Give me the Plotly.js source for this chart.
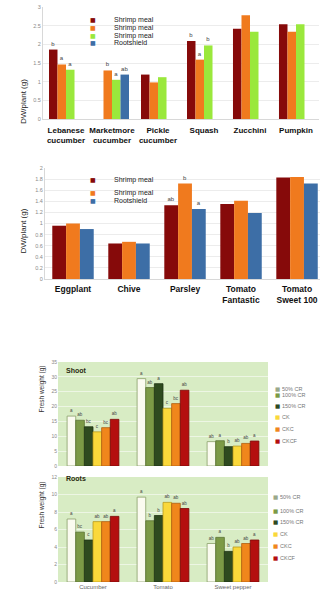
<!DOCTYPE html>
<html><head><meta charset="utf-8">
<script src="https://cdn.plot.ly/plotly-3.0.1.min.js"></script>
<style>html,body{margin:0;padding:0;background:#fff}#c{width:320px;height:595px}</style>
</head><body><div id="c"></div>
<script>
// ---------- Chart 1 (cucurbits) ----------
const cat1 = ["Lebanese<br>cucumber","Marketmore<br>cucumber","Pickle<br>cucumber","Squash","Zucchini","Pumpkin"];
const names1 = ["Shrimp meal","Shrimp meal","Shrimp meal","Rootshield"];
const c1s1 = [1.86, null, 1.19, 2.09, 2.42, 2.54];
const c1s2 = [1.46, 1.30, 0.98, 1.59, 2.78, 2.34];
const c1s3 = [1.32, 1.05, 1.12, 1.97, 2.34, 2.54];
const c1s4 = [null, 1.19, null, null, null, null];
const c1t1 = ["b","","","b","",""];
const c1t2 = ["a","b","","a","",""];
const c1t3 = ["a","a","","b","",""];
const c1t4 = ["","ab","","","",""];
const ticks1 = [0,0.5,1,1.5,2,2.5,3];

// ---------- Chart 2 (other vegetables) ----------
const cat2 = ["Eggplant","Chive","Parsley","Tomato<br>Fantastic","Tomato<br>Sweet 100"];
const names2 = ["Shrimp meal","Shrimp meal","Rootshield"];
const c2s1 = [0.96, 0.64, 1.33, 1.35, 1.83];
const c2s2 = [1.00, 0.67, 1.72, 1.41, 1.84];
const c2s3 = [0.90, 0.64, 1.26, 1.19, 1.72];
const c2t1 = ["","","ab","",""];
const c2t2 = ["","","b","",""];
const c2t3 = ["","","a","",""];
const ticks2 = [0,0.2,0.4,0.6,0.8,1,1.2,1.4,1.6,1.8,2];

// ---------- Chart 3 (Shoot / Roots fresh weight) ----------
const cat3 = ["Cucumber","Tomato","Sweet pepper"];
const names3 = ["50% CR","100% CR","150% CR","CK","CKC","CKCF"];
const shoot = [
  [16.8, 29.4, 8.2],
  [15.4, 26.4, 8.5],
  [13.2, 27.7, 6.5],
  [11.5, 19.4, 6.7],
  [12.9, 21.0, 7.6],
  [15.7, 25.5, 8.4]
];
const shootTxt = [
  ["a","a","ab"],["ab","ab","a"],["bc","a","b"],["c","c","ab"],["bc","bc","ab"],["ab","ab","a"]
];
const roots = [
  [7.2, 9.7, 4.4],
  [5.7, 7.0, 5.1],
  [4.8, 7.6, 3.5],
  [6.9, 9.1, 4.0],
  [6.9, 9.0, 4.4],
  [7.5, 8.4, 4.8]
];
const rootsTxt = [
  ["a","a","ab"],["bc","b","a"],["c","b","b"],["ab","ab","ab"],["ab","ab","ab"],["a","ab","a"]
];

const col1 = ["#860a0a","#f07a1e","#9ae83c","#3d6ea6"];
const col2 = ["#860a0a","#f07a1e","#3d6ea6"];
const col3 = ["#fbfbf0","#7c9a46","#2e4a1f","#fad83a","#f0861c","#b40f0f"];
const line3 = ["#8aa06a","#5a7434","#1f3314","#b89a20","#b05e10","#7a0808"];

const W = 320, H = 595;
const px = v => v / W;
const py = v => 1 - v / H;

const traces = [];
function addBar(x, y, txt, color, xa, ya, lineColor, fs){
  traces.push({
    type:'bar', x:x, y:y, text:txt, textposition:'outside', cliponaxis:false,
    constraintext:'none',
    textfont:{size:fs, color:'#444', family:'Liberation Sans, Arial, sans-serif'},
    marker:{color:color, line:{color:lineColor||color, width:lineColor?0.8:0}},
    xaxis:xa, yaxis:ya, showlegend:false, hoverinfo:'skip'
  });
}
[c1s1,c1s2,c1s3,c1s4].forEach((s,i)=>addBar(cat1, s, [c1t1,c1t2,c1t3,c1t4][i], col1[i], 'x', 'y', null, 6));
[c2s1,c2s2,c2s3].forEach((s,i)=>addBar(cat2, s, [c2t1,c2t2,c2t3][i], col2[i], 'x2', 'y2', null, 6));
shoot.forEach((s,i)=>addBar(cat3, s, shootTxt[i], col3[i], 'x3', 'y3', line3[i], 4.5));
roots.forEach((s,i)=>addBar(cat3, s, rootsTxt[i], col3[i], 'x4', 'y4', line3[i], 4.5));

const fam = 'Liberation Sans, Arial, sans-serif';
const tickF = {size:5.5, color:'#8a8a8a', family:fam};
const catF = {size:8, color:'#111', family:fam, weight:'bold'};

function yax(domain, range, tickvals, opts){
  return Object.assign({
    domain:domain, range:range, tickvals:tickvals, tickfont:tickF,
    showgrid:true, gridcolor:'#ececec', gridwidth:1, zeroline:false,
    showline:true, linecolor:'#d8d8d8', linewidth:1, ticks:'', fixedrange:true
  }, opts||{});
}
function xax(domain, range, anchor, opts){
  return Object.assign({
    domain:domain, range:range, anchor:anchor, type:'category',
    showline:true, linecolor:'#d8d8d8', linewidth:1, ticks:'', showgrid:false,
    tickfont:catF, fixedrange:true
  }, opts||{});
}

const annotations = [];
function ann(x, y, text, opts){
  annotations.push(Object.assign({xref:'paper', yref:'paper', x:px(x), y:py(y), text:text,
    showarrow:false, font:{size:7, color:'#222', family:fam}}, opts||{}));
}
// y titles
ann(17, 77, 'DW/plant (g)', {textangle:-90, font:{size:8, color:'#222', family:fam}});
ann(17, 231, 'DW/plant (g)', {textangle:-90, font:{size:8, color:'#222', family:fam}});
ann(35, 415, 'Fresh weight (g)', {textangle:-90, font:{size:6.5, color:'#333', family:fam}});
ann(35, 531, 'Fresh weight (g)', {textangle:-90, font:{size:6.5, color:'#333', family:fam}});
// subplot labels
ann(64, 370, '<b>Shoot</b>', {xanchor:'left', font:{size:7, color:'#2a2a10', family:fam}});
ann(64, 484, '<b>Roots</b>', {xanchor:'left', font:{size:7, color:'#2a2a10', family:fam}});

// legend chart 1
const leg1Y = [14, 22, 29.7, 37.3];
names1.forEach((n,i)=>{
  ann(88, leg1Y[i], '<span style="color:'+col1[i]+'">■</span>', {xanchor:'left', font:{size:6, family:'DejaVu Sans', color:col1[i]}});
  ann(112, leg1Y[i], n, {xanchor:'left', font:{size:7, color:'#222', family:fam}});
});
// legend chart 2
const leg2Y = [174, 187.3, 200.3];
names2.forEach((n,i)=>{
  ann(88, leg2Y[i], '<span style="color:'+col2[i]+'">■</span>', {xanchor:'left', font:{size:6, family:'DejaVu Sans', color:col2[i]}});
  ann(112, leg2Y[i], n, {xanchor:'left', font:{size:7, color:'#222', family:fam}});
});
// legends chart 3
const leg3aY = [389, 400, 411, 422, 434, 445.5];
const leg3bY = [502, 516, 527, 539, 551, 563];
names3.forEach((n,i)=>{
  const mc = i===0 ? '#9aa88a' : col3[i];
  ann(273, leg3aY[i], '<span style="color:'+mc+'">■</span>', {xanchor:'left', font:{size:5.5, family:'DejaVu Sans', color:mc}});
  ann(280, leg3aY[i], n, {xanchor:'left', font:{size:5.5, color:'#777', family:fam}});
  ann(271, leg3bY[i], '<span style="color:'+mc+'">■</span>', {xanchor:'left', font:{size:5.5, family:'DejaVu Sans', color:mc}});
  ann(278, leg3bY[i], n, {xanchor:'left', font:{size:5.5, color:'#777', family:fam}});
});

const shapes = [
  {type:'rect', xref:'paper', yref:'paper', x0:px(82), x1:px(158), y0:py(44), y1:py(8), fillcolor:'#fff', line:{width:0}, layer:'below'},
  {type:'rect', xref:'paper', yref:'paper', x0:px(82), x1:px(156), y0:py(208), y1:py(167), fillcolor:'#fff', line:{width:0}, layer:'below'}
];

const greenBg = '#d8ecc4';
const layout = {
  width:W, height:H, margin:{l:0,r:0,t:0,b:0}, paper_bgcolor:'#fff', plot_bgcolor:'#fff',
  barmode:'group', showlegend:false, font:{family:fam},
  xaxis: xax([px(43), px(319)], [-0.5, 5.5], 'y', {ticklabelstandoff:3}),
  yaxis: yax([py(119), py(7)], [0,3], ticks1, {anchor:'x'}),
  xaxis2: xax([px(45), 1], [-0.5, 4.41], 'y2', {ticklabelstandoff:2, tickfont:{size:8.5, color:'#111', family:fam, weight:'bold'}}),
  yaxis2: yax([py(279), py(168)], [0,2], ticks2, {anchor:'x2'}),
  xaxis3: xax([px(58), px(268)], [-0.5, 2.5], 'y3', {showticklabels:false, showline:false}),
  yaxis3: yax([py(466), py(362)], [0,35], [0,5,10,15,20,25,30,35], {anchor:'x3', gridcolor:'rgba(255,255,255,0.55)', showline:false, tickfont:{size:5, color:'#888', family:fam}}),
  xaxis4: xax([px(58), px(268)], [-0.5, 2.5], 'y4', {showline:false, tickfont:{size:6, color:'#666', family:fam}}),
  yaxis4: yax([py(582), py(477)], [0,12], [0,2,4,6,8,10,12], {anchor:'x4', gridcolor:'rgba(255,255,255,0.55)', showline:false, tickfont:{size:5, color:'#888', family:fam}}),
  annotations: annotations,
  shapes: shapes
};
layout.bargap = 0.26;
layout.bargroupgap = 0;

// green backgrounds for bottom plots
shapes.push({type:'rect', xref:'x3 domain', yref:'y3 domain', x0:0, x1:1, y0:0, y1:1, fillcolor:greenBg, line:{width:0}, layer:'below'});
shapes.push({type:'rect', xref:'x4 domain', yref:'y4 domain', x0:0, x1:1, y0:0, y1:1, fillcolor:greenBg, line:{width:0}, layer:'below'});

Plotly.newPlot('c', traces, layout, {staticPlot:true, displayModeBar:false});
</script>
</body></html>
